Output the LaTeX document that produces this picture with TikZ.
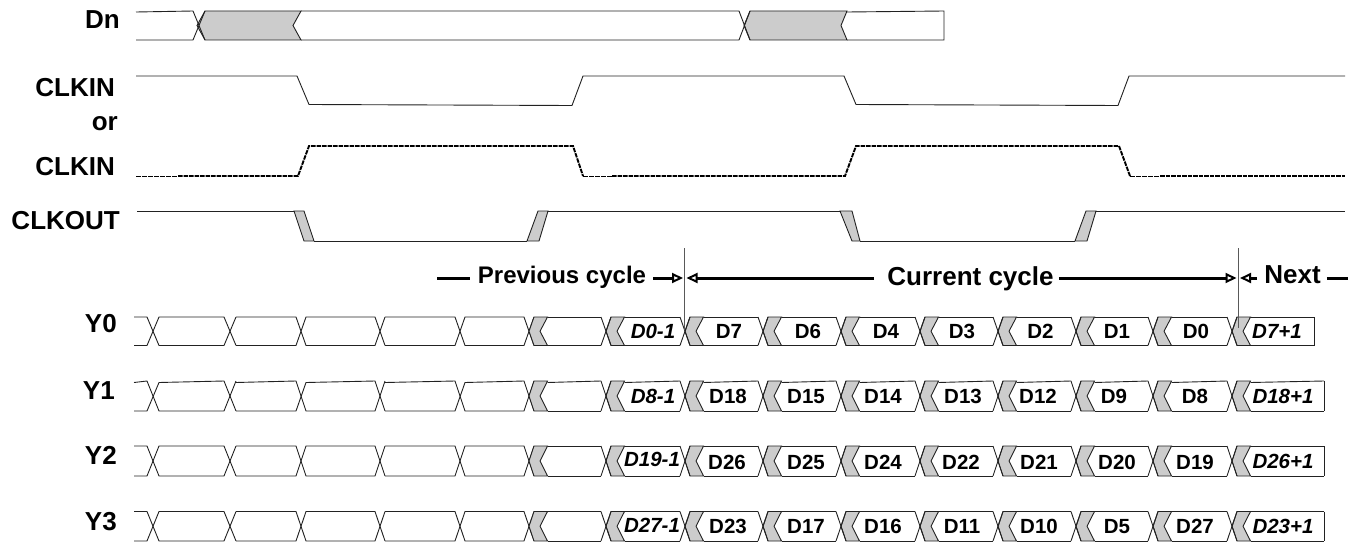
\documentclass[tikz,border=0pt]{standalone}
\usepackage{fontspec}
\setmainfont{Liberation Sans}
\usetikzlibrary{arrows.meta}
\definecolor{greyfill}{HTML}{CCCCCC}
\definecolor{wave}{HTML}{222222}
\tikzset{
  wavel/.style={draw=wave,line width=0.9pt,line join=miter},
  greyp/.style={fill=greyfill,draw=wave,line width=0.9pt},
  siglabel/.style={font=\fontsize{26}{26}\selectfont\bfseries,anchor=base east,inner sep=0pt},
  cell/.style={font=\fontsize{20.5}{20.5}\selectfont\bfseries,inner sep=0pt,anchor=base},
  celli/.style={font=\fontsize{20.5}{20.5}\selectfont\bfseries\itshape,inner sep=0pt,anchor=base},
  head/.style={font=\fontsize{26}{26}\selectfont\bfseries,inner sep=0pt,anchor=base},
  spanline/.style={draw=black,line width=3pt},
  spanarrow/.style={spanline,-{Triangle[open,length=11pt,width=10pt,line width=2pt]}},
  guide/.style={draw=black!65,line width=1pt},
  dashfine/.style={draw=black,line width=0.9pt,dash pattern=on 5pt off 1pt},
  dashthick/.style={draw=black,line width=1.9pt,dash pattern=on 4.5pt off 1pt},
}
\newcommand{\datarow}[4]{% top, bottom, end x, slope of the top edges
  \pgfmathsetmacro{\ymid}{(#1+#2)/2}
  \pgfmathsetmacro{\ys}{#1+#4}
  \draw[wavel] (134,\ys) -- (147,#1) -- (159,#2) -- (224,#2) -- (236,#1);
  \draw[wavel] (134,#2) -- (147,#2) -- (159,\ys) -- (224,#1) -- (236,#2);
  \draw[wavel] (236,\ys) -- (296,#1) -- (306,#2) -- (375,#2) -- (385,#1);
  \draw[wavel] (236,#2) -- (296,#2) -- (306,\ys) -- (375,#1) -- (385,#2);
  \draw[wavel] (385,\ys) -- (455,#1) -- (465,#2) -- (524,#2) -- (534,#1);
  \draw[wavel] (385,#2) -- (455,#2) -- (465,\ys) -- (524,#1) -- (534,#2);
  \foreach \t/\e in {529/601,606/680,685/758,763/836,841/915,920/993,998/1071,1076/1148,1153/1227,1232/#3}{
    \draw[greyp] (\t+5,#1) -- (\t,\ymid) -- (\t+5,#2) -- (\t+18.5,#2) -- (\t+11,\ymid) -- (\t+18.5,#1) -- cycle;
    \draw[wavel] (\t+18.5,\ys) -- (\e,#1);
    \draw[wavel] (\t+18.5,#2) -- (\e,#2);
  }
  \foreach \e/\n in {601/606,680/685,758/763,836/841,915/920,993/998,1071/1076,1148/1153,1227/1232}{
    \draw[wavel] (\e,#1) -- (\n+5,#2);
    \draw[wavel] (\e,#2) -- (\n+5,#1);
  }
  \draw[wavel] (#3,#1) -- (#3,#2);
}
\begin{document}
\begin{tikzpicture}[x=1pt,y=-1pt]
\useasboundingbox (0,0) rectangle (1359,543);
\fill[white] (0,0) rectangle (1359,543);
% Dn
\draw[greyp] (205,11) -- (197,25.5) -- (205,40) -- (301,40) -- (293,25.5) -- (301,11) -- cycle;
\draw[greyp] (750,11) -- (744,25.5) -- (750,40) -- (847,40) -- (841,25.5) -- (847,11) -- cycle;
\draw[wavel] (136,12) -- (193,11) -- (205,40);
\draw[wavel] (136,40) -- (193,40) -- (205,11);
\draw[wavel] (301,11) -- (739,11) -- (750,40);
\draw[wavel] (301,40) -- (739,40) -- (750,11);
\draw[wavel] (847,12) -- (944,11) -- (944,40) -- (847,40);
% CLKIN
\draw[wavel] (136,76) -- (297,76) -- (309,104.5) -- (572,105.5) -- (583,76) -- (844,76) -- (856,104.5) -- (1118,105.5) -- (1129,76) -- (1345,76);
% CLKIN inverted
\draw[dashfine] (136,176) -- (178,176);
\draw[dashthick] (178,176) -- (298,176) -- (309,146) -- (573,146) -- (583,176);
\draw[dashfine] (583,176) -- (612,176);
\draw[dashthick] (612,176) -- (845,176) -- (856,146) -- (1119,146) -- (1130,176);
\draw[dashfine] (1130,176) -- (1160,176);
\draw[dashthick] (1160,176) -- (1345,176);
% CLKOUT
\draw[greyp] (294,211) -- (304,211) -- (314,241) -- (304,241) -- cycle;
\draw[greyp] (527,241) -- (539,241) -- (548,211) -- (538,211) -- cycle;
\draw[greyp] (840,211) -- (852,211) -- (860,241) -- (852,241) -- cycle;
\draw[greyp] (1075,241) -- (1087,241) -- (1096,211) -- (1086,211) -- cycle;
\draw[wavel] (137,211) -- (294,211);
\draw[wavel] (314,241) -- (527,241);
\draw[wavel] (548,211) -- (840,211);
\draw[wavel] (860,241) -- (1075,241);
\draw[wavel] (1096,211) -- (1345,211);
% rows
\datarow{317}{345.5}{1314}{0}
\datarow{381}{411}{1324}{1.5}
\datarow{446}{476}{1324}{0}
\datarow{511.5}{541}{1324}{0}
% signal labels
\node[siglabel] (ldn) at (120,28.3) {Dn};
\node[siglabel] (lck1) at (115,96.7) {CLKIN};
\node[siglabel] (lor) at (118,130) {or};
\node[siglabel] (lck2) at (115,175.7) {CLKIN};
\node[siglabel] (lout) at (120,229) {CLKOUT};
\node[siglabel] (ly0) at (117,332.7) {Y0};
\node[siglabel] (ly1) at (115,399.3) {Y1};
\node[siglabel] (ly2) at (117,464) {Y2};
\node[siglabel] (ly3) at (117,530) {Y3};
% header
\coordinate (v1t) at (684.5,248); \coordinate (v1b) at (684.5,330);
\coordinate (v2t) at (1238,248); \coordinate (v2b) at (1238,328);
\draw[guide] (v1t) -- (v1b);
\draw[guide] (v2t) -- (v2b);
\coordinate (a1r) at (683,278); \coordinate (a1l) at (686.5,278);
\coordinate (a2r) at (1236.5,278); \coordinate (a2l) at (1240,278);
\coordinate (pl) at (437,278); \coordinate (nr) at (1348,278);
\node[head,font=\fontsize{24}{24}\selectfont\bfseries] (prev) at (562,283) {Previous cycle};
\node[head] (curr) at (970.5,285.5) {Current cycle};
\node[head] (next) at (1292.5,283) {Next};
\draw[spanline] (pl) -- ([xshift=-8pt]prev.west|-pl);
\draw[spanarrow] ([xshift=7pt]prev.east|-a1r) -- (a1r);
\draw[spanarrow] ([xshift=-13pt]curr.west|-a1l) -- (a1l);
\draw[spanarrow] ([xshift=5pt]curr.east|-a2r) -- (a2r);
\draw[spanarrow] ([xshift=-7pt]next.west|-a2l) -- (a2l);
\draw[spanline] ([xshift=6pt]next.east|-nr) -- (nr);
% cell labels
\foreach \x/\t/\y in {729/D7/338,808/D6/338,886/D4/338,962/D3/338,1040.5/D2/338,1117/D1/338,1196/D0/338,
  728/D18/403.3,806/D15/403.3,883/D14/403.3,963/D13/403.3,1038/D12/403.3,1114/D9/403.3,1195/D8/403.3,
  727/D26/469,806/D25/469,883/D24/469,961/D22/469,1039/D21/469,1117/D20/469,1195/D19/469,
  728/D23/533,806/D17/533,883/D16/533,962/D11/533,1039/D10/533,1117/D5/533,1195/D27/533}
  \node[cell] (c\t) at (\x,\y) {\t};
\foreach \x/\t/\y in {653/D0-1/338,653/D8-1/403,652/D19-1/466,652/D27-1/532,
  1277/D7+1/338,1283/D18+1/403,1283/D26+1/468,1283/D23+1/533}
  \node[celli] (i\t) at (\x,\y) {\t};
\end{tikzpicture}
\end{document}
